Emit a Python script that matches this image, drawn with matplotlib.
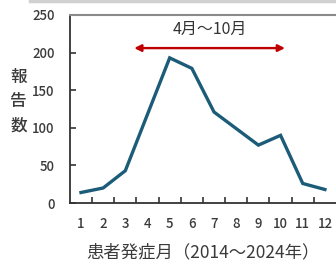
import matplotlib
matplotlib.use("Agg")
import matplotlib.pyplot as plt
from matplotlib.lines import Line2D

plt.rcParams['font.family'] = ['Noto Sans CJK JP', 'DejaVu Sans']

# monthly report counts (2014-2024)
months = [1, 2, 3, 4, 5, 6, 7, 8, 9, 10, 11, 12]
reports = [14, 20, 43, 118, 193, 179, 121, 99, 77, 90, 26, 18]
yticks = [0, 50, 100, 150, 200, 250]

# season annotation
season_start = 3.4
season_end = 10.2
season_label = "4月～10月"

fig = plt.figure(figsize=(3.36, 2.63), dpi=100)
ax = fig.add_axes([0.208, 0.228, 0.792, 0.715])

ax.plot(months, reports, color='#1d5c78', linewidth=2.4, solid_joinstyle='miter')

ax.set_xlim(0.5, 12.5)
ax.set_ylim(0, 250)
ax.set_xticks(months)
ax.set_yticks(yticks)
ax.set_xticks([m + 0.5 for m in months[:-1]], minor=True)
ax.tick_params(axis='x', which='major', length=0, labelsize=9.5, colors='#3a3a3a', pad=10)
ax.tick_params(axis='x', which='minor', direction='in', length=4, width=1.2, color='#333333')
ax.tick_params(axis='y', direction='in', length=4, width=1.2, color='#333333',
               labelsize=9.5, labelcolor='#3a3a3a', pad=11)
for lbl in ax.get_xticklabels() + ax.get_yticklabels():
    lbl.set_fontweight('medium')

for s in ['left', 'bottom']:
    ax.spines[s].set_color('#333333')
    ax.spines[s].set_linewidth(1.3)
ax.spines['top'].set_color('#8a8a8a')
ax.spines['top'].set_linewidth(1.5)
ax.spines['right'].set_visible(False)

# season arrow
ax.annotate('', xy=(season_start, 206), xytext=(season_end, 206),
            arrowprops=dict(arrowstyle='<|-|>', color='#c00000', lw=1.7,
                            mutation_scale=10, shrinkA=0, shrinkB=0))
ax.text((season_start + season_end) / 2, 231, season_label, ha='center', va='center',
        fontsize=11.5, color='#333333')

ax.set_xlabel("患者発症月（2014～2024年）", fontsize=12.5, color='#3a3a3a', labelpad=9)
fig.text(0.055, 0.615, "報\n告\n数", ha='center', va='center', fontsize=12,
         color='#3a3a3a', linespacing=1.45, fontweight='medium')

# faint frame edge along the top of the picture
fig.add_artist(Line2D([0.09, 1.0], [0.995, 0.995], color='#d0d0d0', lw=2.5,
                      transform=fig.transFigure))

fig.savefig("out.png", dpi=100)
